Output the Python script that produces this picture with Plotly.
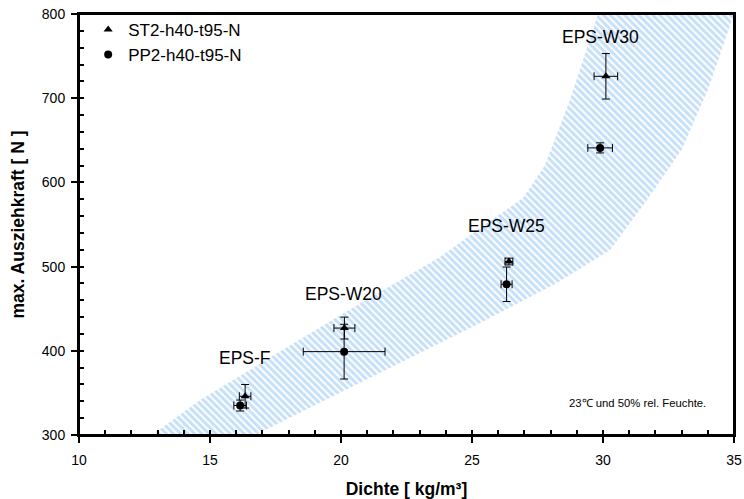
import plotly.graph_objects as go

# --- data ---
series_names = ["ST2-h40-t95-N", "PP2-h40-t95-N"]
groups = ["EPS-F", "EPS-W20", "EPS-W25", "EPS-W30"]

st2_density = [16.34, 20.13, 26.41, 30.11]
st2_density_err = [0.22, 0.40, 0.15, 0.45]
st2_force = [346, 427, 506, 726]
st2_force_err = [14, 13, 4, 27]

pp2_density = [16.15, 20.12, 26.32, 29.89]
pp2_density_err = [0.24, 1.56, 0.21, 0.47]
pp2_force = [335, 399, 479, 641]
pp2_force_err = [6.5, 32.5, 20.5, 6]

label_x = [16.34, 20.08, 26.32, 29.92]
label_y = [391, 468, 548, 773]

# scatter band (hatched region)
band_upper_x = [12.79, 14.62, 20.11, 23.78, 25.31, 26.95, 27.79, 28.74, 29.81]
band_upper_y = [300, 341.6, 444.9, 511.4, 545.8, 581.5, 620.7, 697.9, 800]
band_lower_x = [16.72, 25.31, 28.24, 30.27, 31.68, 33.0, 34.0, 35.0]
band_lower_y = [300, 433, 480.5, 519.7, 579.1, 638.5, 709.7, 800]

x_range = [10, 35]
y_range = [300, 800]

FONT = "Liberation Sans, Arial, sans-serif"

fig = go.Figure()

# band polygon
poly_x = band_upper_x + band_lower_x[::-1] + [band_upper_x[0]]
poly_y = band_upper_y + band_lower_y[::-1] + [band_upper_y[0]]
fig.add_trace(go.Scatter(
    x=poly_x, y=poly_y, mode="lines", line=dict(width=0),
    fill="toself", fillcolor="rgba(0,0,0,0)",
    fillpattern=dict(shape="\\", fgcolor="#8fc2f4", bgcolor="rgba(255,255,255,0)",
                     size=5, solidity=0.6),
    showlegend=False, hoverinfo="skip"))

err_style = dict(color="black", thickness=1, width=4)

fig.add_trace(go.Scatter(
    x=st2_density, y=st2_force, mode="markers", name=series_names[0],
    marker=dict(symbol="triangle-up", size=8, color="black"),
    error_x=dict(type="data", array=st2_density_err, **err_style),
    error_y=dict(type="data", array=st2_force_err, **err_style)))

fig.add_trace(go.Scatter(
    x=pp2_density, y=pp2_force, mode="markers", name=series_names[1],
    marker=dict(symbol="circle", size=8, color="black"),
    error_x=dict(type="data", array=pp2_density_err, **err_style),
    error_y=dict(type="data", array=pp2_force_err, **err_style)))

# dummy trace to activate overlay axes (inside ticks)
fig.add_trace(go.Scatter(x=[x_range[0]], y=[y_range[0]], xaxis="x2", yaxis="y2",
                         mode="markers", marker=dict(opacity=0), showlegend=False,
                         hoverinfo="skip"))

for g, lx, ly in zip(groups, label_x, label_y):
    fig.add_annotation(x=lx, y=ly, text=g, showarrow=False,
                       font=dict(family=FONT, size=17.5, color="black"))

fig.add_annotation(x=31.3, y=338, text="23℃ und 50% rel. Feuchte.", showarrow=False,
                   font=dict(family=FONT, size=11.3, color="black"))

# plot frame
fig.add_shape(type="rect", xref="paper", yref="paper", x0=0, y0=0, x1=1, y1=1,
              line=dict(color="black", width=2), fillcolor="rgba(0,0,0,0)", layer="above")

fig.update_layout(
    width=744, height=499,
    margin=dict(l=79, r=10, t=14, b=64, autoexpand=False),
    paper_bgcolor="white", plot_bgcolor="white",
    font=dict(family=FONT, size=14, color="black"),
    showlegend=True,
    legend=dict(x=0.014, y=1.005, xanchor="left", yanchor="top",
                bgcolor="rgba(0,0,0,0)", font=dict(family=FONT, size=17),
                itemwidth=30, tracegroupgap=0, itemsizing="trace"),
    xaxis=dict(range=x_range, dtick=5, tick0=10, showgrid=False, zeroline=False,
               showline=True, linewidth=2, linecolor="black", mirror=True,
               ticks="outside", ticklen=6, tickwidth=2, tickcolor="black",
               tickfont=dict(size=14), ticklabelstandoff=5, automargin=False,
               title=dict(text="<b>Dichte [ kg/m³]</b>", font=dict(size=17.5), standoff=17)),
    yaxis=dict(range=y_range, dtick=100, tick0=300, showgrid=False, zeroline=False,
               showline=True, linewidth=2, linecolor="black", mirror=True,
               ticks="outside", ticklen=6, tickwidth=2, tickcolor="black",
               tickfont=dict(size=14), ticklabelstandoff=3, automargin=False,
               title=dict(text="<b>max. Ausziehkraft [ N ]</b>", font=dict(size=17.5), standoff=13)),
    xaxis2=dict(range=x_range, overlaying="x", anchor="y", side="bottom", dtick=1, tick0=10,
                ticks="inside", ticklen=5, tickwidth=2, tickcolor="black",
                showticklabels=False, showgrid=False, zeroline=False, showline=False),
    yaxis2=dict(range=y_range, overlaying="y", anchor="x", side="left", dtick=20, tick0=300,
                ticks="inside", ticklen=5, tickwidth=2, tickcolor="black",
                showticklabels=False, showgrid=False, zeroline=False, showline=False),
)

fig.write_html("out.html")
